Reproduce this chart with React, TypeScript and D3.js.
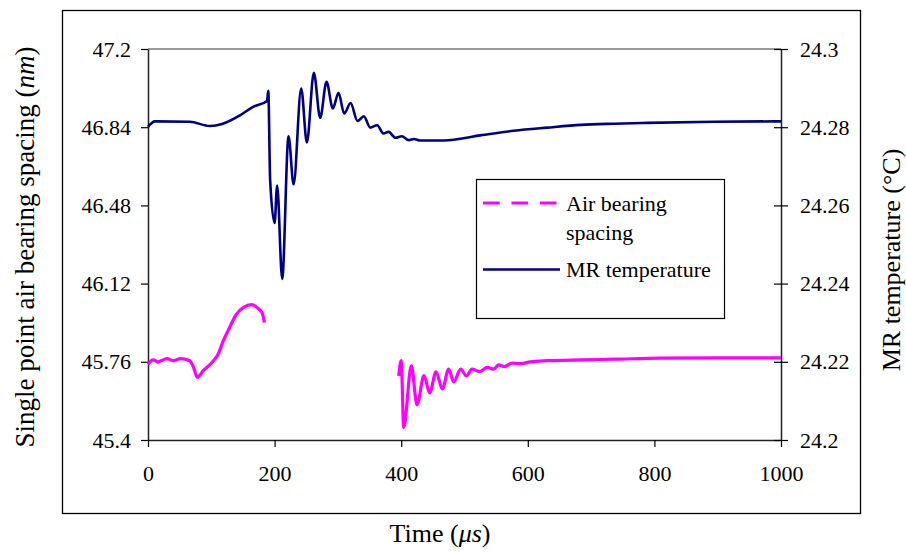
import { useEffect, useRef } from 'react';
import * as d3 from 'd3';

const TIME_TICKS = [0, 200, 400, 600, 800, 1000];
const SPACING_TICKS = [45.4, 45.76, 46.12, 46.48, 46.84, 47.2];
const SPACING_TICK_LABELS = ['45.4', '45.76', '46.12', '46.48', '46.84', '47.2'];
const TEMP_TICKS = [24.2, 24.22, 24.24, 24.26, 24.28, 24.3];
const TEMP_TICK_LABELS = ['24.2', '24.22', '24.24', '24.26', '24.28', '24.3'];

// air bearing spacing (nm), first stretch before the gap
const spacingTimeA = [0, 8, 16, 30, 40, 51, 66, 72, 78, 87, 101, 111, 119, 127, 140, 151, 164, 175, 180, 184];
const spacingValA = [45.749, 45.769, 45.760, 45.775, 45.765, 45.775, 45.765, 45.734, 45.688, 45.718,
  45.757, 45.796, 45.857, 45.906, 45.980, 46.011, 46.023, 46.003, 45.988, 45.941];

// air bearing spacing (nm), after the gap
const spacingTimeB = [396, 400, 404, 416, 425, 436, 445, 455, 465, 475, 483, 494, 503, 512, 524, 536,
  546, 554, 563, 575, 589, 604, 631, 684, 736, 810, 894, 1000];
const spacingValB = [45.695, 45.765, 45.457, 45.742, 45.562, 45.696, 45.617, 45.714, 45.635, 45.726,
  45.668, 45.726, 45.695, 45.726, 45.715, 45.734, 45.726, 45.746, 45.738, 45.754, 45.752, 45.760,
  45.765, 45.769, 45.772, 45.777, 45.778, 45.778];

// MR temperature (°C)
const tempTime = [0, 11, 66, 98, 117, 146, 166, 188, 190, 193, 200, 204, 212, 222, 230, 242, 251, 262,
  272, 282, 292, 301, 310, 320, 331, 341, 351, 362, 372, 380, 391, 401, 412, 420, 430, 467, 525, 578,
  631, 684, 736, 789, 894, 1000];
const tempVal = [24.2801, 24.2815, 24.2814, 24.2803, 24.2808, 24.2831, 24.2852, 24.2867, 24.2893, 24.2664,
  24.2555, 24.2651, 24.2412, 24.2777, 24.2654, 24.2899, 24.2761, 24.2939, 24.2824, 24.2916,
  24.2848, 24.2888, 24.2835, 24.2862, 24.2816, 24.2828, 24.2799, 24.2805, 24.2784, 24.2788,
  24.2773, 24.2777, 24.2767, 24.2770, 24.2766, 24.2766, 24.2779, 24.2791, 24.2799, 24.2806,
  24.2809, 24.2811, 24.2814, 24.2815];

const FONT = "'Liberation Serif', 'Times New Roman', Tinos, 'DejaVu Serif', serif";
const MAGENTA = '#ff00ff';
const NAVY = '#000080';

function App() {
  const svgRef = useRef<SVGSVGElement>(null);

  useEffect(() => {
    const svg = d3.select(svgRef.current);
    svg.selectAll('*').remove();

    const W = 906, H = 552;
    const plot = { left: 148, right: 781, top: 49, bottom: 440 };

    svg.attr('width', W).attr('height', H).attr('font-family', FONT);

    // outer chart frame
    svg.append('rect')
      .attr('x', 62.5).attr('y', 10.5).attr('width', 798).attr('height', 503)
      .attr('fill', '#fff').attr('stroke', '#000').attr('stroke-width', 1.3);

    const x = d3.scaleLinear().domain([0, 1000]).range([plot.left, plot.right]);
    const yL = d3.scaleLinear().domain([45.4, 47.2]).range([plot.bottom, plot.top]);
    const yR = d3.scaleLinear().domain([24.2, 24.3]).range([plot.bottom, plot.top]);

    // plot area top border
    svg.append('line')
      .attr('x1', plot.left).attr('x2', plot.right)
      .attr('y1', plot.top).attr('y2', plot.top)
      .attr('stroke', '#9a9a9a').attr('stroke-width', 2);

    // Axes
    const styleAxis = (g: any) => {
      g.attr('font-family', FONT).attr('font-size', 22);
      g.select('.domain').attr('stroke', '#222').attr('stroke-width', 1.5);
      g.selectAll('.tick line').attr('stroke', '#000').attr('stroke-width', 1.2);
      g.selectAll('text')
        .attr('fill', '#000')
        .style('font-family', FONT)
        .style('font-size', '22px');
    };

    svg.append('g')
      .attr('transform', `translate(0,${plot.bottom})`)
      .call(d3.axisBottom(x).tickValues(TIME_TICKS).tickSize(7).tickSizeOuter(0).tickPadding(18)
        .tickFormat(d3.format('d')))
      .call(styleAxis);

    svg.append('g')
      .attr('transform', `translate(${plot.left},0)`)
      .call(d3.axisLeft(yL).tickValues(SPACING_TICKS).tickSize(7).tickSizeOuter(0).tickPadding(10)
        .tickFormat((d, i) => SPACING_TICK_LABELS[i]))
      .call(styleAxis);

    const right = svg.append('g')
      .attr('transform', `translate(${plot.right},0)`)
      .call(d3.axisRight(yR).tickValues(TEMP_TICKS).tickSize(7).tickSizeOuter(0).tickPadding(12)
        .tickFormat((d, i) => TEMP_TICK_LABELS[i]))
      .call(styleAxis);
    right.selectAll('.tick line').attr('x1', -7);

    // Lines
    const spacingLine = d3.line<[number, number]>()
      .x(d => x(d[0])).y(d => yL(d[1]))
      .curve(d3.curveMonotoneX);
    const tempLine = d3.line<[number, number]>()
      .x(d => x(d[0])).y(d => yR(d[1]))
      .curve(d3.curveMonotoneX);

    const segA = spacingTimeA.map((t, i) => [t, spacingValA[i]] as [number, number]);
    const segB = spacingTimeB.map((t, i) => [t, spacingValB[i]] as [number, number]);
    const temp = tempTime.map((t, i) => [t, tempVal[i]] as [number, number]);

    [segA, segB].forEach(seg => {
      svg.append('path')
        .datum(seg)
        .attr('fill', 'none')
        .attr('stroke', MAGENTA)
        .attr('stroke-width', 3.2)
        .attr('stroke-linejoin', 'round')
        .attr('d', spacingLine);
    });

    svg.append('path')
      .datum(temp)
      .attr('fill', 'none')
      .attr('stroke', NAVY)
      .attr('stroke-width', 2.6)
      .attr('stroke-linejoin', 'round')
      .attr('d', tempLine);

    // Legend
    const lg = svg.append('g').attr('font-family', FONT).attr('font-size', 22);
    lg.append('rect')
      .attr('x', 476.5).attr('y', 179.5).attr('width', 248).attr('height', 139)
      .attr('fill', '#fff').attr('stroke', '#000').attr('stroke-width', 1.2);
    lg.append('line')
      .attr('x1', 483).attr('x2', 558).attr('y1', 203).attr('y2', 203)
      .attr('stroke', MAGENTA).attr('stroke-width', 3).attr('stroke-dasharray', '16.7 11.7');
    lg.append('line')
      .attr('x1', 483).attr('x2', 560).attr('y1', 269.5).attr('y2', 269.5)
      .attr('stroke', NAVY).attr('stroke-width', 2.6);
    [['Air bearing', 210.5], ['spacing', 240], ['MR temperature', 277]].forEach(([t, yy]) => {
      lg.append('text')
        .attr('x', 566).attr('y', yy as number)
        .text(t as string);
    });

    // Axis titles
    const xt = svg.append('text')
      .attr('x', 440).attr('y', 542)
      .attr('text-anchor', 'middle')
      .attr('font-size', 26);
    xt.append('tspan').text('Time (');
    xt.append('tspan').attr('font-style', 'italic').text('μs');
    xt.append('tspan').text(')');

    const lt = svg.append('text')
      .attr('transform', 'translate(34,247) rotate(-90)')
      .attr('text-anchor', 'middle')
      .attr('font-size', 27);
    lt.append('tspan').text('Single point air bearing spacing (');
    lt.append('tspan').attr('font-style', 'italic').text('nm');
    lt.append('tspan').text(')');

    svg.append('text')
      .attr('transform', 'translate(900,260) rotate(-90)')
      .attr('text-anchor', 'middle')
      .attr('font-size', 26)
      .text('MR temperature (°C)');
  }, []);

  return (
    <div style={{ position: 'absolute', left: 0, top: 0 }}>
      <svg ref={svgRef}></svg>
    </div>
  );
}

export default App;
